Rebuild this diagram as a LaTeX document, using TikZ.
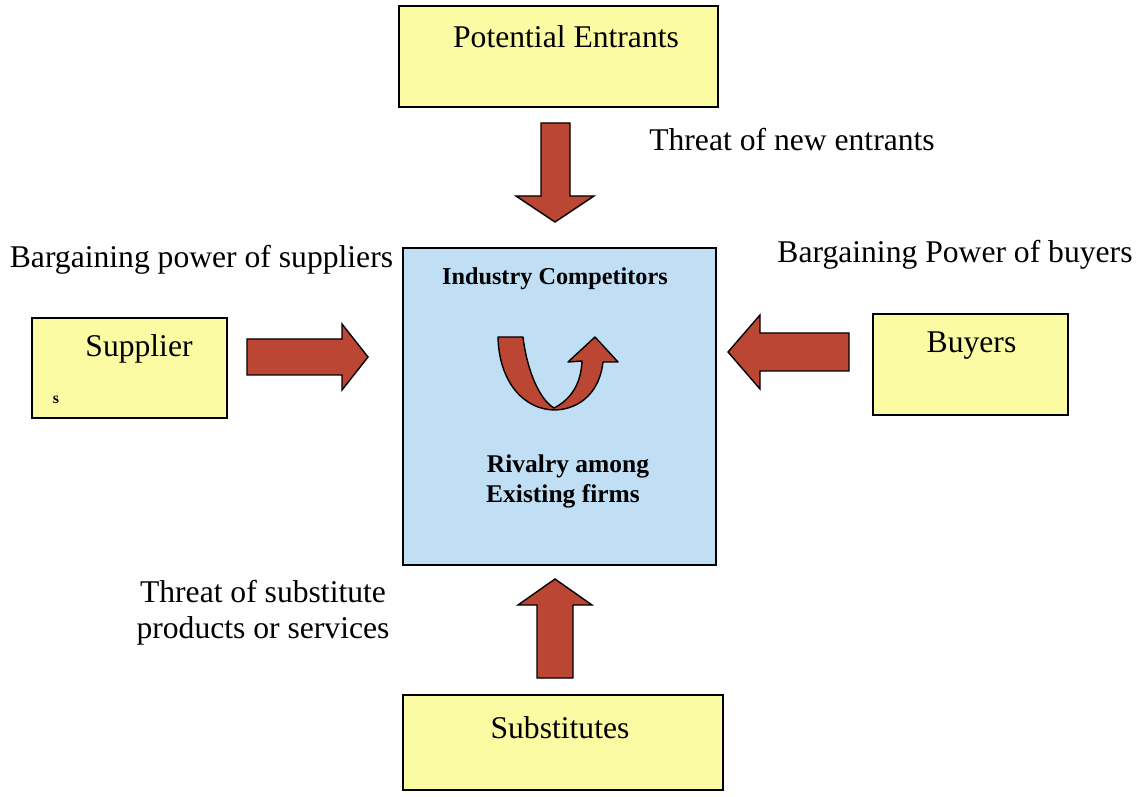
\documentclass[tikz,border=0pt]{standalone}
\usepackage{fontspec}
\setmainfont{Liberation Serif}
\definecolor{boxyellow}{RGB}{251,251,163}
\definecolor{boxblue}{RGB}{192,222,244}
\definecolor{arrowred}{RGB}{188,70,52}
\begin{document}
\begin{tikzpicture}[x=0.02cm,y=-0.02cm,
  ybox/.style={draw=black, line width=0.9pt, fill=boxyellow, inner sep=0pt, outer sep=0pt},
  bbox/.style={draw=black, line width=0.9pt, fill=boxblue, inner sep=0pt, outer sep=0pt},
  blockarrow/.style={draw=black, line width=0.8pt, fill=arrowred, line join=miter},
  lbl/.style={font=\fontsize{18}{21}\selectfont, anchor=base, inner sep=0pt},
  inlbl/.style={font=\fontsize{14.5}{17}\selectfont\bfseries, anchor=base, inner sep=0pt},
  toplbl/.style={font=\fontsize{13.8}{16}\selectfont\bfseries, anchor=base, inner sep=0pt}]
\useasboundingbox[fill=white] (0,0) rectangle (1147,797);

% boxes
\node[ybox, minimum width=6.38cm, minimum height=2.02cm] (pe) at (558.5,56.5) {};
\node[bbox, minimum width=6.26cm, minimum height=6.34cm] (ind) at (559.5,406.5) {};
\node[ybox, minimum width=3.9cm, minimum height=2cm] (sup) at (129.5,368) {};
\node[ybox, minimum width=3.9cm, minimum height=2.02cm] (buy) at (970.5,364.5) {};
\node[ybox, minimum width=6.4cm, minimum height=1.9cm] (subs) at (563,742.5) {};

% box texts
\node[lbl] (pel) at (566,48) {Potential Entrants};
\node[lbl] (supl) at (139,357) {Supplier};
\node[font=\fontsize{9}{10}\selectfont\bfseries, anchor=base, inner sep=0pt] (sups) at (56,403) {s};
\node[lbl] (buyl) at (971.5,353) {Buyers};
\node[lbl] (subl) at (560,738) {Substitutes};
\node[toplbl] (indl) at (555,285) {Industry Competitors};
\node[inlbl] (riv1) at (568,473) {Rivalry among};
\node[inlbl] (riv2) at (563,502) {Existing firms};

% force labels
\node[lbl] (tne) at (792,151) {Threat of new entrants};
\node[lbl] (bps) at (201.5,268) {Bargaining power of suppliers};
\node[lbl] (bpb) at (955,263) {Bargaining Power of buyers};
\node[lbl] (tsp1) at (263,602) {Threat of substitute};
\node[lbl] (tsp2) at (263,638) {products or services};

% block arrows
\draw[blockarrow] (247,339) -- (342,339) -- (342,324) -- (368,357) -- (342,390) -- (342,375) -- (247,375) -- cycle;
\draw[blockarrow] (849,333) -- (760,333) -- (760,315) -- (728,352) -- (760,389) -- (760,371) -- (849,371) -- cycle;
\draw[blockarrow] (541,123) -- (570,123) -- (570,196) -- (594,196) -- (555,222) -- (516,196) -- (541,196) -- cycle;
\draw[blockarrow] (537,678) -- (537,605) -- (518,605) -- (555,579) -- (592,605) -- (573,605) -- (573,678) -- cycle;

% rivalry U-turn arrow
\draw[blockarrow, line join=round]
  (498,337) -- (523,337)
  .. controls (527,370) and (539,399) .. (554,408)
  .. controls (570,400) and (581,385) .. (582,361)
  -- (568,362) -- (595,337) -- (618,362) -- (603,362)
  .. controls (600,390) and (582,409) .. (555,410)
  .. controls (524,410) and (499,382) .. (498,337) -- cycle;
\end{tikzpicture}
\end{document}
